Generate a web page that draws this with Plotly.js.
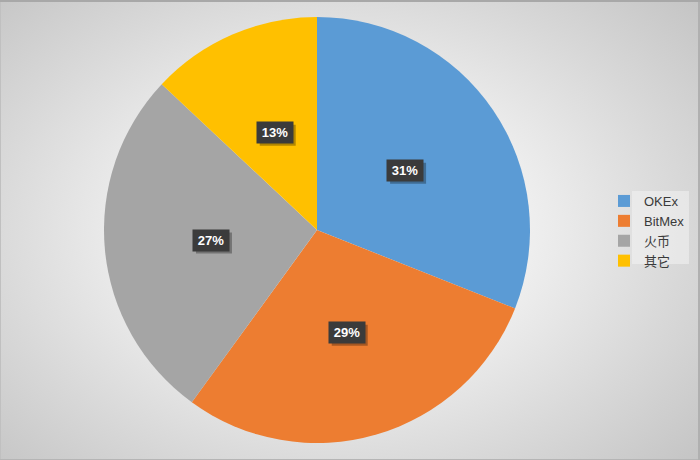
<!DOCTYPE html>
<html>
<head>
<meta charset="utf-8">
<script src="https://cdn.plot.ly/plotly-3.0.1.min.js"></script>
<style>
html,body{margin:0;padding:0;}
#chart{width:700px;height:460px;
box-shadow: inset 0 2px 0 #a8a8a8, inset -2px 0 0 #b0b0b0, inset 0 -1px 0 #b5b5b5, inset 1px 0 0 #c0c0c0;
background:radial-gradient(ellipse 70% 75% at 48% 50%, #ffffff 0%, #f2f2f2 35%, #d9d9d9 70%, #c4c4c4 100%);}
</style>
</head>
<body>
<div id="chart"></div>
<script>
var categories = ['OKEx', 'BitMex', '火币', '其它'];
var shares = [31, 29, 27, 13];
var sliceColors = ['#5B9BD5', '#ED7D31', '#A5A5A5', '#FFC000'];

var W = 700, H = 460;
var cx = 317, cy = 230, R = 213;
var labelR = 0.5;
var boxW = 36, boxH = 21;

var total = shares.reduce(function(a, b){ return a + b; }, 0);
var annotations = [];
var shapes = [];
var acc = 0;
shares.forEach(function(v){
  var mid = (acc + v / 2) / total * 2 * Math.PI;
  acc += v;
  var px = cx + R * labelR * Math.sin(mid);
  var py = cy - R * labelR * Math.cos(mid);
  var txt = Math.round(v / total * 100) + '%';
  shapes.push({type: 'rect', xref: 'paper', yref: 'paper', layer: 'above',
    x0: (px - boxW / 2 + 3) / W, x1: (px + boxW / 2 + 3) / W,
    y0: 1 - (py + boxH / 2 + 3) / H, y1: 1 - (py - boxH / 2 + 3) / H,
    fillcolor: 'rgba(0,0,0,0.3)', line: {width: 0}});
  annotations.push({xref: 'paper', yref: 'paper', x: px / W, y: 1 - py / H,
    xanchor: 'center', yanchor: 'middle', showarrow: false, text: txt,
    font: {family: 'Liberation Sans, Arial, sans-serif', size: 13, color: 'white', weight: 'bold'},
    bgcolor: '#3b3b3b', borderpad: 3, width: boxW - 6, height: boxH - 6});
});

shapes.push({type: 'rect', xref: 'paper', yref: 'paper', layer: 'below',
  x0: 632 / W, x1: 689 / W, y0: 1 - 264 / H, y1: 1 - 191 / H,
  fillcolor: 'rgba(245,245,245,0.5)', line: {width: 0}});

var trace = {
  type: 'pie',
  labels: categories,
  values: shares,
  marker: {colors: sliceColors, line: {width: 0}},
  sort: false,
  direction: 'clockwise',
  rotation: 0,
  textinfo: 'none',
  hoverinfo: 'label+percent',
  domain: {x: [(cx - R) / W, (cx + R) / W], y: [1 - (cy + R) / H, 1 - (cy - R) / H]}
};

var layout = {
  width: W, height: H,
  margin: {l: 0, r: 0, t: 0, b: 0, autoexpand: false},
  paper_bgcolor: 'rgba(0,0,0,0)',
  plot_bgcolor: 'rgba(0,0,0,0)',
  showlegend: true,
  legend: {x: 604 / W, y: 1 - 186 / H, xanchor: 'left', yanchor: 'top',
    bgcolor: 'rgba(0,0,0,0)', borderwidth: 0,
    font: {family: 'Liberation Sans, Arial, Noto Sans CJK SC, sans-serif', size: 13, color: '#3a3a3a'},
    tracegroupgap: 0, itemwidth: 30},
  shapes: shapes,
  annotations: annotations
};

Plotly.newPlot('chart', [trace], layout, {displayModeBar: false, staticPlot: true});
</script>
</body>
</html>
